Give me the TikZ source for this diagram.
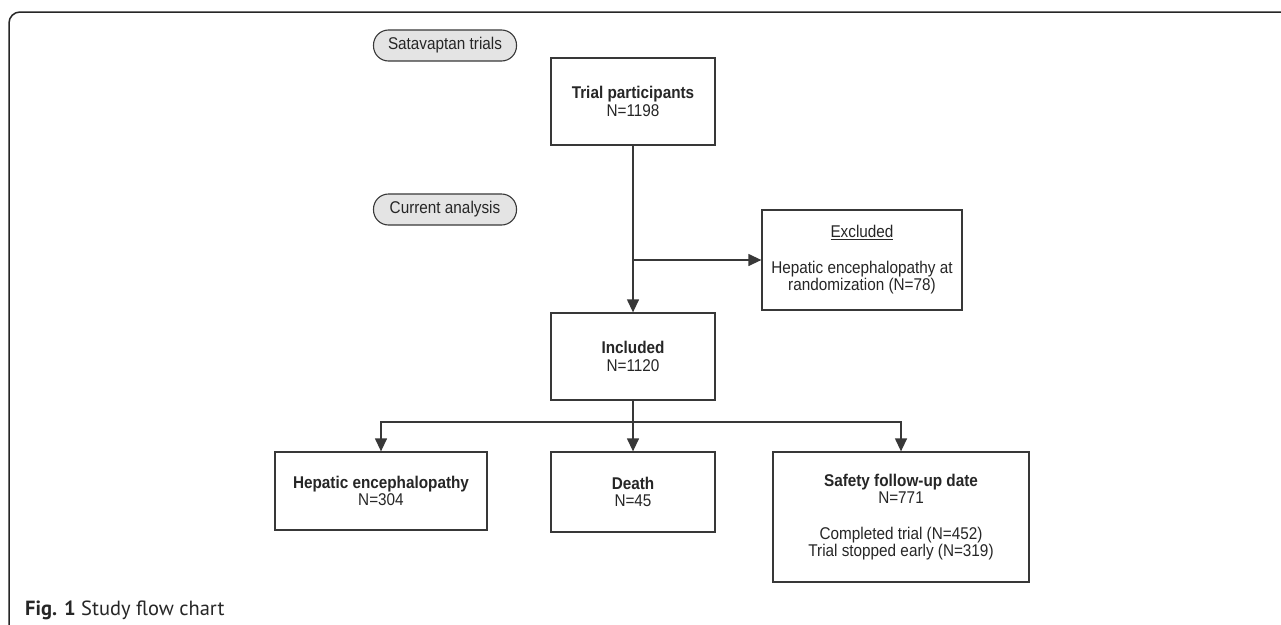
\documentclass[tikz,border=0pt]{standalone}
\usepackage{fontspec}
\setmainfont{Liberation Sans}[FakeStretch=0.9]
\newfontfamily\capfont{PT Sans}
\usetikzlibrary{arrows.meta,positioning}
\definecolor{linecol}{HTML}{383838}
\definecolor{pillfill}{HTML}{E4E4E4}
\tikzset{
  boxtext/.style={font=\fontsize{17}{17.5}\selectfont, align=center, text=black!85},
  flowbox/.style={boxtext, draw=linecol, line width=1.3pt, inner sep=0pt},
  pill/.style={boxtext, draw=linecol, fill=pillfill, line width=1.1pt, rounded corners=15pt,
    minimum width=143pt, minimum height=31pt, inner sep=0pt},
  conn/.style={draw=linecol, line width=1.3pt},
  arr/.style={conn, -{Triangle[length=13pt,width=12pt]}}
}
\begin{document}
\begin{tikzpicture}[x=1pt,y=-1pt]
\useasboundingbox (0,0) rectangle (1281,624);
\fill[white] (0,0) rectangle (1281,624);
% outer frame
\draw[black!85, line width=1.5pt, rounded corners=11pt] (9,630) -- (9,12) -- (1290,12);
% pills
\node[pill] (sat) at (445,45.5) {Satavaptan trials};
\node[pill] (cur) at (445,209.5) {Current analysis};
% boxes
\node[flowbox, minimum width=164pt, minimum height=87pt] (trial) at (633,101.5)
  {\textbf{Trial participants}\\N=1198};
\node[flowbox, minimum width=200pt, minimum height=100pt] (excl) at (862,260)
  {\underline{Excluded}\\[18pt]Hepatic encephalopathy at\\randomization (N=78)};
\node[flowbox, minimum width=164pt, minimum height=87pt] (incl) at (633,356.5)
  {\textbf{Included}\\N=1120};
\node[flowbox, minimum width=212pt, minimum height=78pt] (hep) at (381,491)
  {\textbf{Hepatic encephalopathy}\\N=304};
\node[flowbox, minimum width=164pt, minimum height=80pt] (death) at (633,492)
  {\textbf{Death}\\N=45};
\node[flowbox, minimum width=256pt, minimum height=130pt] (safe) at (901,517)
  {\textbf{Safety follow-up date}\\N=771\\[18pt]Completed trial (N=452)\\Trial stopped early (N=319)};
% connectors
\coordinate (split) at (trial.south |- excl.west);
\coordinate (fork) at (633,422);
\draw[arr] (trial.south) -- (incl.north);
\draw[arr] (split) -- (excl.west);
\draw[conn] (incl.south) -- (fork);
\draw[arr] (fork) -| (hep.north);
\draw[arr] (fork) -- (death.north);
\draw[arr] (fork) -| (safe.north);
% caption
\node[anchor=base west, inner sep=0pt, font=\capfont\fontsize{20.5}{22}\selectfont, text=black!85] (cap) at (25,615)
  {\textbf{Fig. 1} Study flow chart};
\end{tikzpicture}
\end{document}
